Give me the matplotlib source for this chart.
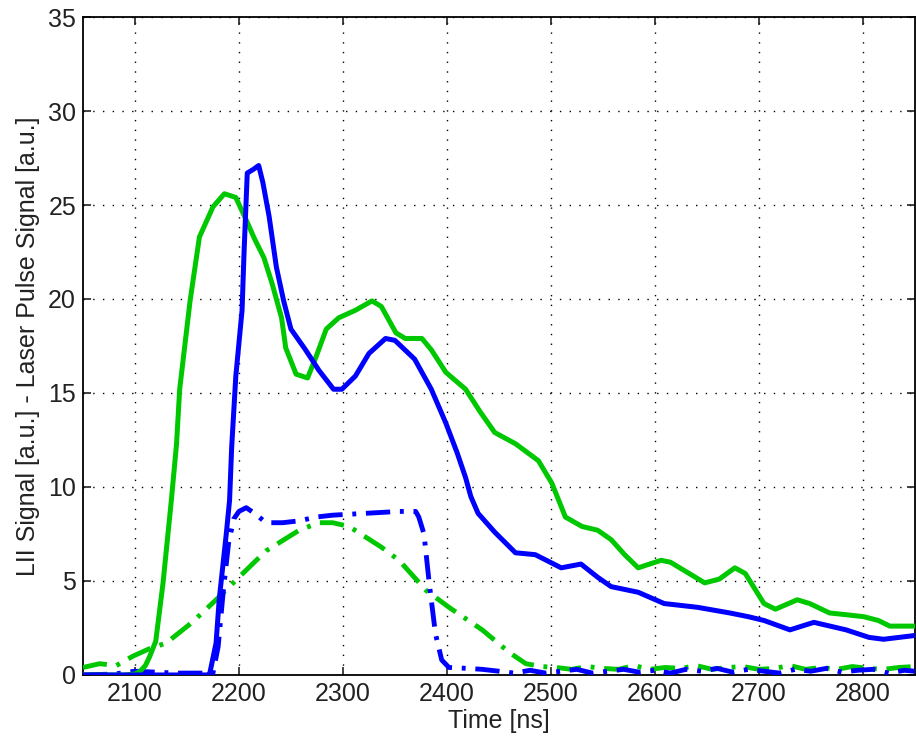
import matplotlib.pyplot as plt
import numpy as np

# LII signal (solid) and laser pulse (dash-dot), two cases
t_lii_green = [2050, 2070, 2090, 2100, 2105, 2110, 2114, 2120, 2127, 2135, 2140, 2143,
               2153, 2162, 2175, 2186, 2197, 2207, 2215, 2224, 2232, 2241, 2245, 2255,
               2266, 2274, 2284, 2296, 2312, 2328, 2337, 2351, 2360, 2376, 2385, 2399,
               2418, 2432, 2446, 2466, 2488, 2501, 2514, 2530, 2545, 2558, 2571, 2584,
               2595, 2606, 2615, 2630, 2648, 2662, 2677, 2687, 2705, 2716, 2737, 2749,
               2768, 2785, 2801, 2815, 2826, 2850]
lii_green = [0, 0, 0, 0.05, 0.2, 0.5, 0.96, 1.8, 4.9, 9.3, 12.3, 15.2,
             19.9, 23.3, 24.9, 25.6, 25.4, 24.2, 23.2, 22.2, 20.8, 19.0, 17.4, 16.0,
             15.8, 16.9, 18.4, 19.0, 19.4, 19.9, 19.6, 18.2, 17.9, 17.9, 17.3, 16.1,
             15.2, 14.0, 12.9, 12.3, 11.4, 10.2, 8.4, 7.9, 7.7, 7.2, 6.4, 5.7,
             5.9, 6.1, 6.0, 5.5, 4.9, 5.1, 5.7, 5.4, 3.8, 3.5, 4.0, 3.8,
             3.3, 3.2, 3.1, 2.9, 2.6, 2.6]

t_lii_blue = [2050, 2100, 2150, 2170, 2172, 2178, 2181, 2188, 2191, 2193, 2197, 2203,
              2205, 2208, 2214, 2219, 2223, 2229, 2236, 2243, 2250, 2264, 2277, 2291,
              2299, 2312, 2325, 2341, 2350, 2369, 2385, 2399, 2410, 2418, 2423, 2430,
              2446, 2466, 2485, 2510, 2529, 2545, 2558, 2584, 2609, 2641, 2672, 2690,
              2705, 2730, 2753, 2784, 2806, 2820, 2835, 2850]
lii_blue = [0, 0, 0, 0, 0.1, 1.7, 4.0, 7.6, 9.3, 12.1, 15.9, 19.4,
            22.6, 26.7, 26.9, 27.1, 26.2, 24.4, 21.7, 19.9, 18.4, 17.3, 16.2, 15.2,
            15.2, 15.9, 17.1, 17.9, 17.8, 16.8, 15.2, 13.4, 11.8, 10.5, 9.5, 8.6,
            7.6, 6.5, 6.4, 5.7, 5.9, 5.2, 4.7, 4.4, 3.8, 3.6, 3.3, 3.1,
            2.9, 2.4, 2.8, 2.4, 2.0, 1.9, 2.0, 2.1]

t_pulse_blue = [2050, 2080, 2100, 2120, 2140, 2160, 2175, 2180, 2185, 2190, 2195, 2200,
                2207, 2215, 2226, 2242, 2258, 2274, 2290, 2322, 2354, 2370, 2373, 2378,
                2383, 2389, 2395, 2402, 2420, 2434, 2450, 2465, 2480, 2495, 2510, 2525,
                2540, 2555, 2570, 2585, 2600, 2615, 2630, 2645, 2660, 2675, 2690, 2705,
                2720, 2735, 2750, 2765, 2780, 2795, 2810, 2825, 2840, 2850]
pulse_blue = [0, 0.05, 0.2, 0.15, 0.1, 0.1, 0.1, 1.5, 4.5, 7.0, 8.3, 8.7,
              8.9, 8.6, 8.1, 8.1, 8.2, 8.4, 8.5, 8.6, 8.7, 8.7, 8.4, 7.5,
              4.9, 2.2, 0.8, 0.4, 0.35, 0.3, 0.2, 0.1, 0.25, 0.1, 0.2, 0.3,
              0.1, 0.2, 0.3, 0.15, 0.25, 0.1, 0.3, 0.2, 0.35, 0.15, 0.3, 0.2,
              0.1, 0.3, 0.2, 0.35, 0.15, 0.25, 0.3, 0.1, 0.25, 0.2]

t_pulse_green = [2050, 2066, 2082, 2098, 2114, 2130, 2155, 2178, 2200, 2226, 2258, 2277,
                 2290, 2306, 2337, 2354, 2380, 2402, 2434, 2460, 2476, 2491, 2505, 2520,
                 2535, 2550, 2565, 2580, 2595, 2610, 2625, 2640, 2655, 2670, 2685, 2700,
                 2715, 2730, 2745, 2760, 2775, 2790, 2805, 2820, 2835, 2850]
pulse_green = [0.4, 0.6, 0.5, 1.0, 1.4, 1.7, 2.8, 4.0, 5.2, 6.6, 7.7, 8.1,
               8.1, 7.9, 6.8, 6.1, 4.5, 3.6, 2.4, 1.2, 0.6, 0.45, 0.4, 0.3,
               0.45, 0.35, 0.3, 0.5, 0.3, 0.4, 0.35, 0.5, 0.3, 0.4, 0.45, 0.3,
               0.35, 0.5, 0.3, 0.4, 0.3, 0.45, 0.35, 0.3, 0.4, 0.45]

blue = '#0000ff'
green = '#00c800'

plt.rcParams['font.family'] = ['Liberation Sans', 'DejaVu Sans']

fig = plt.figure(figsize=(9.16, 7.46), dpi=100)
ax = fig.add_axes([0.0906, 0.0952, 0.908, 0.882])

dashdot = (0, (5, 2, 0.8, 2))
ax.plot(t_pulse_green, pulse_green, color=green, lw=3.5, ls=dashdot, zorder=3)
ax.plot(t_pulse_blue, pulse_blue, color=blue, lw=3.5, ls=dashdot, zorder=3)
ax.plot(t_lii_green, lii_green, color=green, lw=3.6, zorder=4)
ax.plot(t_lii_blue, lii_blue, color=blue, lw=3.6, zorder=4)

ax.set_xlim(2050, 2850)
ax.set_ylim(0, 35)
ax.set_xticks(np.arange(2100, 2900, 100))
ax.set_yticks(np.arange(0, 36, 5))
ax.grid(True, color='black', ls=(0, (1, 6)), lw=1.0)
ax.set_axisbelow(True)
ax.tick_params(direction='in', top=True, right=True, length=6, width=1.2,
               labelsize=18, colors='#222222', pad=5)
for s in ax.spines.values():
    s.set_linewidth(1.3)

ax.set_xlabel('Time [ns]', fontsize=18, color='#222222', labelpad=2)
ax.set_ylabel('LII Signal [a.u.] - Laser Pulse Signal [a.u.]', fontsize=18,
              color='#222222', labelpad=6)

fig.savefig('out.png', dpi=100)
